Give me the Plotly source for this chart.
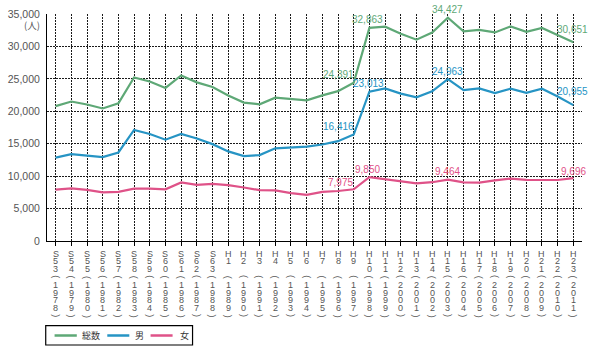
import plotly.graph_objects as go

# ---- data ----
eras = ["S53","S54","S55","S56","S57","S58","S59","S60","S61","S62","S63",
        "H1","H2","H3","H4","H5","H6","H7","H8","H9","H10","H11","H12","H13",
        "H14","H15","H16","H17","H18","H19","H20","H21","H22","H23"]
years = [1978,1979,1980,1981,1982,1983,1984,1985,1986,1987,1988,1989,1990,
         1991,1992,1993,1994,1995,1996,1997,1998,1999,2000,2001,2002,2003,
         2004,2005,2006,2007,2008,2009,2010,2011]
total = [20788,21503,21048,20434,21228,25202,24596,23599,25524,24460,23742,
         22436,21346,21084,22104,21851,21679,22445,23104,24391,32863,33048,
         31957,31042,32143,34427,32325,32552,32155,33093,32249,32845,31690,30651]
male = [12859,13386,13155,12942,13654,17116,16508,15624,16497,15802,14934,
        13818,13102,13242,14296,14468,14560,14874,15393,16416,23013,23512,
        22727,22144,23080,24963,23272,23540,22813,23478,22831,23472,22283,20955]
female = [7929,8117,7893,7492,7574,8086,8088,7975,9027,8658,8808,8618,8244,
          7842,7808,7383,7119,7571,7711,7975,9850,9536,9230,8898,9063,9464,
          9053,9012,9342,9615,9418,9373,9407,9696]
series_names = ["総数", "男", "女"]
labeled_idx = [19, 20, 25, 33]
y_ticks = [0, 5000, 10000, 15000, 20000, 25000, 30000, 35000]
unit_label = "(人)"

colors = ["#5ea876", "#2694c4", "#df5288"]

W, H = 590, 351
ML, MR, MT, MB = 38, 8, 14, 110
PW, PH = W - ML - MR, H - MT - MB

def px_x(p):
    return (p - ML) / PW

def px_y(p):
    return (H - MB - p) / PH

fig = go.Figure()
n = len(eras)
xs = list(range(n))
annots = []
# per-label placement: (xanchor, xshift, yshift) for each labelled index
label_place = {
    0: {19: ("right", 1, 8), 20: ("center", -2, 8), 25: ("center", 0, 8), 33: ("center", -1, 13)},
    1: {19: ("right", 1, 8), 20: ("center", -1, 8), 25: ("center", 0, 8), 33: ("center", -1, 14)},
    2: {19: ("right", 0, 7), 20: ("center", -2, 8), 25: ("center", 0, 8), 33: ("center", 0, 7)},
}
for s, (name, vals, col) in enumerate(zip(series_names, [total, male, female], colors)):
    fig.add_trace(go.Scatter(
        x=xs, y=vals, name=name, mode="lines",
        line=dict(color=col, width=2.2), showlegend=False,
    ))
    for i in labeled_idx:
        xa, xsh, ysh = label_place[s][i]
        annots.append(dict(
            x=i, y=vals[i], xref="x", yref="y", text=f"{vals[i]:,}",
            showarrow=False, xanchor=xa, yanchor="middle",
            xshift=xsh, yshift=ysh, borderpad=0,
            font=dict(color=col, size=10, family="Liberation Sans, Arial"),
        ))

grid_col = "#1a1a1a"
fig.update_xaxes(
    range=[-0.55, n - 0.45], tickvals=xs, showticklabels=False,
    showgrid=True, gridcolor=grid_col, griddash="2px,1px", gridwidth=1,
    showline=True, linecolor="black", linewidth=1,
    ticks="outside", ticklen=4, tickcolor="black", zeroline=False,
)
fig.update_yaxes(
    range=[0, 35000], tickvals=y_ticks, tickformat=",",
    showgrid=True, gridcolor=grid_col, griddash="2px,1px", gridwidth=1,
    showline=True, linecolor="black", linewidth=1, zeroline=False,
    tickfont=dict(size=10.5, color="#555555", family="Liberation Sans, Arial"),
    ticklabelstandoff=4,
)

# vertical stacked x labels
row_pitch = 7.8
for i, (e, y) in enumerate(zip(eras, years)):
    head = list(e)
    if len(head) < 3:
        head = head + [""]
    chars = head + ["("] + list(str(y)) + [")"]
    for r, ch in enumerate(chars):
        if not ch:
            continue
        annots.append(dict(
            x=i, xref="x", y=0, yref="paper", yanchor="middle", xanchor="center",
            yshift=-(12.5 + r * row_pitch), text=ch, showarrow=False, borderpad=0,
            textangle=90 if ch in "()" else 0,
            font=dict(size=9, color="#555555", family="Liberation Sans, Arial"),
        ))

annots.append(dict(
    x=px_x(33), xref="paper", xanchor="right", y=px_y(25), yref="paper",
    yanchor="middle", text=unit_label, showarrow=False,
    font=dict(size=9.5, color="#555555", family="Noto Sans CJK JP"),
))

# legend (manual)
shapes = [dict(type="rect", xref="paper", yref="paper",
               x0=px_x(36.7), x1=px_x(186), y0=px_y(345), y1=px_y(325.7),
               line=dict(color="black", width=1.2), fillcolor="white")]
leg_lines = [(45.7, 68.3, 72), (99.3, 121.7, 125), (143.3, 165.7, 171)]
for (a, b, t), name, col in zip(leg_lines, series_names, colors):
    shapes.append(dict(type="line", xref="paper", yref="paper",
                       x0=px_x(a), x1=px_x(b), y0=px_y(335.5), y1=px_y(335.5),
                       line=dict(color=col, width=2.5)))
    annots.append(dict(x=px_x(t), xref="paper", xanchor="left", y=px_y(335.5),
                       yref="paper", yanchor="middle", text=name, showarrow=False,
                       font=dict(size=9, color="#333333", family="Noto Sans CJK JP")))

fig.update_layout(
    width=W, height=H, margin=dict(l=ML, r=MR, t=MT, b=MB),
    paper_bgcolor="white", plot_bgcolor="white",
    annotations=annots, shapes=shapes, showlegend=False,
)
fig.write_html("out.html")
